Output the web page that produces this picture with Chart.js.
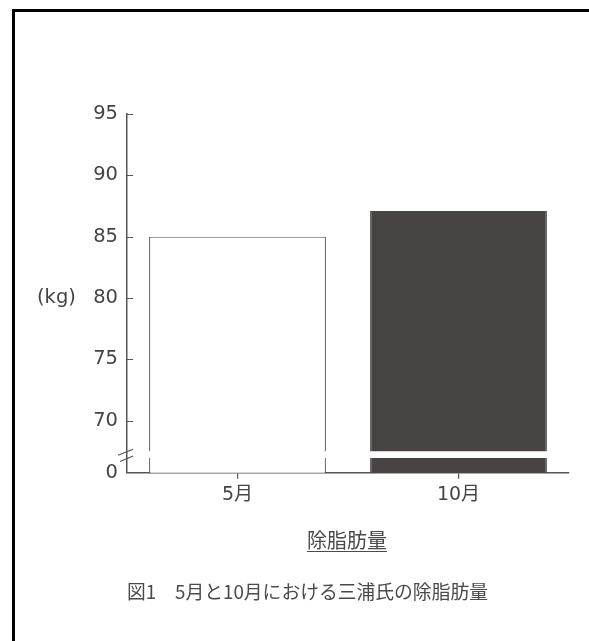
<!DOCTYPE html>
<html>
<head>
<meta charset="utf-8">
<script src="https://cdn.jsdelivr.net/npm/chart.js@4"></script>
<style>
    body { margin: 0; background: #fff; }
    #frame { position: absolute; left: 12px; top: 9px; width: 600px; height: 660px; border-top: 3px solid #000; border-left: 3px solid #000; }
    #chart { position: absolute; left: 0; top: 0; }
    .txt { position: absolute; font-family: "Noto Sans CJK JP", sans-serif; color: #4a4a4a; white-space: nowrap; line-height: 1; }
    #xTitle { left: 307px; top: 530px; font-size: 20px; text-decoration: underline; text-underline-offset: 3px; text-decoration-thickness: 1px; }
    #caption { left: 127px; top: 582px; font-size: 18.8px; }
</style>
</head>
<body>
<div id="frame"></div>
<canvas id="chart" width="589" height="641"></canvas>
<div class="txt" id="xTitle">除脂肪量</div>
<div class="txt" id="caption">図1　5月と10月における三浦氏の除脂肪量</div>
<script>
const categories = ['5月', '10月'];
const values = [85, 87.1];
const barColors = ['#ffffff', '#474443'];
const barBorders = ['#555555', '#474443'];
const yMin = 65.75;
const yMax = 95;
const yTickValues = [yMin, 70, 75, 80, 85, 90, 95];
const yTickLabels = ['0', '70', '75', '80', '85', '90', '95'];
const yUnit = '(kg)';
const breakRange = [66.95, 67.5];

const axisColor = '#555';
const textColor = '#444';
const numFont = '"DejaVu Sans", "Noto Sans CJK JP", sans-serif';

// white gap through the bars + slashes on the y axis, inward tick marks, unit label
const axisExtras = {
    id: 'axisExtras',
    afterDatasetsDraw(chart) {
        const ctx = chart.ctx;
        const y = chart.scales.y;
        const top = y.getPixelForValue(breakRange[1]);
        const bot = y.getPixelForValue(breakRange[0]);
        ctx.save();
        ctx.fillStyle = '#fff';
        chart.getDatasetMeta(0).data.forEach(bar => {
            ctx.fillRect(bar.x - bar.width / 2 - 2, top, bar.width + 4, bot - top);
        });
        const ax = chart.chartArea.left;
        ctx.strokeStyle = axisColor;
        ctx.lineWidth = 1.2;
        ctx.beginPath();
        ctx.moveTo(ax - 9, top + 4);
        ctx.lineTo(ax + 6, top - 2);
        ctx.moveTo(ax - 7, bot + 3.5);
        ctx.lineTo(ax + 6, bot - 2);
        ctx.stroke();
        ctx.restore();
    },
    afterDraw(chart) {
        const ctx = chart.ctx;
        const y = chart.scales.y;
        const ax = chart.chartArea.left;
        ctx.save();
        ctx.strokeStyle = axisColor;
        ctx.lineWidth = 1.2;
        ctx.beginPath();
        yTickValues.slice(1).forEach(v => {
            const py = Math.round(y.getPixelForValue(v)) + 0.5;
            ctx.moveTo(ax, py);
            ctx.lineTo(ax + 6, py);
        });
        ctx.stroke();
        ctx.fillStyle = textColor;
        ctx.font = '19.5px ' + numFont;
        ctx.textAlign = 'left';
        ctx.textBaseline = 'middle';
        ctx.fillText(yUnit, 37, y.getPixelForValue(80));
        ctx.restore();
    }
};

new Chart(document.getElementById('chart'), {
    type: 'bar',
    data: {
        labels: categories,
        datasets: [{
            data: values,
            backgroundColor: barColors,
            borderColor: barBorders,
            borderWidth: 1.2,
            borderSkipped: 'bottom',
            barPercentage: 0.8,
            categoryPercentage: 1
        }]
    },
    options: {
        responsive: false,
        animation: false,
        devicePixelRatio: 1,
        layout: { padding: { left: 0, right: 20, top: 114, bottom: 138.3 } },
        plugins: { legend: { display: false }, tooltip: { enabled: false } },
        scales: {
            x: {
                grid: { display: true, drawOnChartArea: false, offset: false, tickLength: 6, color: axisColor, lineWidth: 1.2 },
                border: { display: true, color: axisColor, width: 1.5 },
                ticks: { color: textColor, font: { size: 19, family: numFont }, padding: 5 },
                afterFit(scale) { scale.height = 30; }
            },
            y: {
                min: yMin,
                max: yMax,
                grid: { display: false, drawTicks: false },
                border: { display: true, color: axisColor, width: 1.5 },
                afterBuildTicks(scale) {
                    scale.ticks = yTickValues.map(v => ({ value: v }));
                },
                ticks: {
                    color: textColor,
                    font: { size: 19.5, family: numFont },
                    padding: 9,
                    callback: (val) => yTickLabels[yTickValues.indexOf(val)]
                },
                afterFit(scale) { scale.width = 127; }
            }
        }
    },
    plugins: [axisExtras]
});
</script>
</body>
</html>
